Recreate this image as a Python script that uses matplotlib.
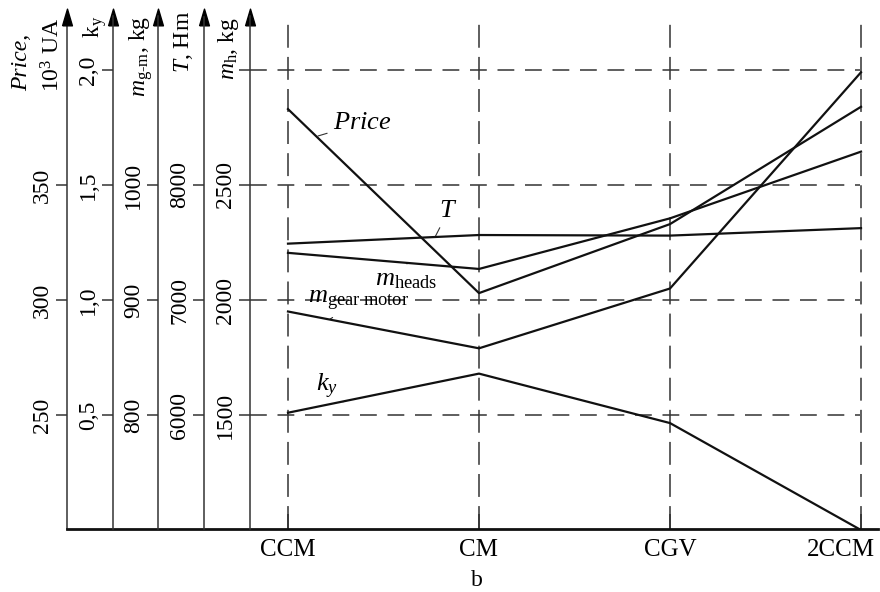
import numpy as np
import matplotlib.pyplot as plt
from matplotlib.transforms import ScaledTranslation

plt.rcParams["font.family"] = ["Liberation Serif", "DejaVu Serif"]
plt.rcParams["mathtext.fontset"] = "custom"
plt.rcParams["mathtext.rm"] = "Liberation Serif"
plt.rcParams["mathtext.it"] = "Liberation Serif:italic"

# ------------------------------------------------------------
# Data
# ------------------------------------------------------------
categories = ["CCM", "CM", "CGV", "2CCM"]
price = [383, 303, 333, 384]            # 10^3 UA
k_y = [0.51, 0.68, 0.465, 0.0]
m_gear_motor = [890, 858, 910, 1098]    # kg
torque = [7490, 7565, 7560, 7625]       # Hm
m_heads = [2205, 2135, 2355, 2645]      # kg

price_ticks = [250, 300, 350]
ky_ticks = [0.5, 1.0, 1.5, 2.0]
ky_ticklabels = ["0,5", "1,0", "1,5", "2,0"]
mgm_ticks = [800, 900, 1000]
t_ticks = [6000, 7000, 8000]
mh_ticks = [1500, 2000, 2500, 3000]
mh_ticklabels = ["1500", "2000", "2500", ""]

# every axis shares the same grid levels: value = base + step * level
level_lo, level_hi = -0.991, 3.465
W, H = 880, 592

fig = plt.figure(figsize=(W / 100, H / 100), dpi=100)
ax = fig.add_axes([67 / W, 1 - 529 / H, 811 / W, (529 - 16.5) / H])

ink = "#111111"
spine_col = "#333333"
fs = 17


def style_axis(a, base, step, ticks, labels=None):
    a.set_ylim(base + step * level_lo, base + step * level_hi)
    a.set_yticks(ticks)
    if labels is not None:
        a.set_yticklabels(labels)
    a.tick_params(axis="y", direction="out", length=8, width=1.1,
                  color=spine_col, pad=2, labelsize=fs, labelrotation=90)
    for lab in a.get_yticklabels():
        lab.set_va("center")


# main axis: Price
ax.set_xlim(-1.157, 3.089)
style_axis(ax, 250, 50, price_ticks)
for s in ["top", "right"]:
    ax.spines[s].set_visible(False)
ax.spines["left"].set_color(spine_col)
ax.spines["left"].set_linewidth(1.1)
ax.spines["bottom"].set_linewidth(2)
ax.spines["bottom"].set_color(ink)
ax.set_xticks(range(len(categories)))
ax.set_xticklabels(categories)
ax.tick_params(axis="x", direction="in", length=11, width=1.2,
               color=spine_col, pad=7, labelsize=18)
# last category label sits pulled in from the right edge
last = ax.get_xticklabels()[-1]
last.set_transform(last.get_transform()
                   + ScaledTranslation(-0.2, 0, fig.dpi_scale_trans))

# extra scales on the left
spine_fracs = [0.0567, 0.1122, 0.1689, 0.2256]
extra = [
    (0.5, 0.5, ky_ticks, ky_ticklabels, k_y),
    (800, 100, mgm_ticks, None, m_gear_motor),
    (6000, 1000, t_ticks, None, torque),
    (1500, 500, mh_ticks, mh_ticklabels, m_heads),
]
twins = []
for frac, (base, step, ticks, labels, series) in zip(spine_fracs, extra):
    t = ax.twinx()
    for s in ["top", "right", "bottom"]:
        t.spines[s].set_visible(False)
    t.spines["left"].set_visible(True)
    t.spines["left"].set_position(("axes", frac))
    t.spines["left"].set_color(spine_col)
    t.spines["left"].set_linewidth(1.1)
    t.yaxis.set_ticks_position("left")
    t.patch.set_visible(False)
    style_axis(t, base, step, ticks, labels)
    t.plot(range(len(categories)), series, color=ink, lw=1.6, zorder=3)
    twins.append(t)

ax.plot(range(len(categories)), price, color=ink, lw=1.6, zorder=3)

# dashed grid
for v in [250, 300, 350, 400]:
    ax.axhline(v, xmin=spine_fracs[-1], xmax=0.978, color="#333333",
               lw=1.1, dashes=(11, 7), zorder=1)
for i in range(len(categories)):
    ax.axvline(i, ymin=0, ymax=1.0, color="#333333", lw=1.1,
               dashes=(15, 6), zorder=1)

# arrow heads on top of the vertical scales
arrow = [(-0.59, -1), (0, 1), (0.59, -1), (-0.59, -1)]
for f in [0.0] + spine_fracs:
    ax.plot(f, 1, marker=arrow, ms=12, color="black", transform=ax.transAxes,
            clip_on=False, zorder=5)

# curve labels
notes = [
    ("$Price$", (0.157, 371.3), (0.387, 377), 19),
    ("$T$", (0.770, 327.4), (0.838, 338.5), 19),
    (r"$m_{\mathrm{heads}}$", (0.623, 316.1), (0.62, 308.5), 19),
    (r"$m_{\mathrm{gear\ motor}}$", (0.22, 291.7), (0.37, 299.5), 19),
    ("$k_y$", (0.288, 255.7), (0.204, 262.5), 19),
]
for txt, xy, xyt, size in notes:
    ax.annotate(txt, xy=xy, xytext=xyt, fontsize=size, ha="center",
                va="center", arrowprops=dict(arrowstyle="-", lw=0.8,
                                             color="#333333",
                                             shrinkA=2, shrinkB=0))

# axis titles
def ftext(px, py, s, **kw):
    fig.text(px / W, 1 - py / H, s, rotation=90, ha="center", va="bottom",
             fontsize=fs, **kw)


ftext(22, 91, "Price,", fontstyle="italic")
ftext(53, 92, "10$^3$ UA")
ftext(95, 38, r"k$_\mathrm{y}$")
ftext(141, 97, r"$m_{\mathrm{g\text{-}m}}$, kg")
ftext(183, 73, "$T$, Hm")
ftext(228, 80, r"$m_{\mathrm{h}}$, kg")

fig.text(477 / W, 1 - 580 / H, "b", ha="center", va="center", fontsize=fs)

fig.savefig("out.png", dpi=100)
